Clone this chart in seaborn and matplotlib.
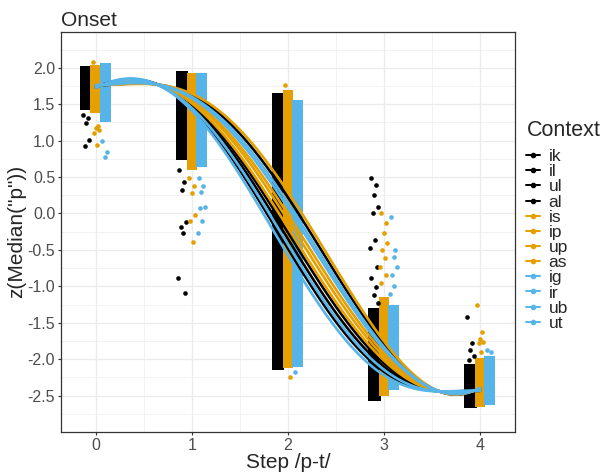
import matplotlib
matplotlib.use("Agg")
import matplotlib.pyplot as plt
from matplotlib.lines import Line2D
from matplotlib.ticker import AutoMinorLocator, FormatStrFormatter
import numpy as np
import pandas as pd
import seaborn as sns

# steps of the /p-t/ continuum
steps = [0, 1, 2, 3, 4]

# contexts, grouped by colour
contexts = ["ik", "il", "ul", "al", "is", "ip", "up", "as", "ig", "ir", "ub", "ut"]
groups = ["black", "orange", "blue"]
group_contexts = [["ik", "il", "ul", "al"], ["is", "ip", "up", "as"], ["ig", "ir", "ub", "ut"]]

# dense part of each point column (per group, per step)
black_hi = [2.02, 1.95, 1.66, -1.30, -2.06]
black_lo = [1.42, 0.73, -2.15, -2.57, -2.67]
orange_hi = [2.04, 1.93, 1.69, -1.15, -1.99]
orange_lo = [1.38, 0.60, -2.12, -2.50, -2.66]
blue_hi = [2.07, 1.93, 1.56, -1.25, -1.95]
blue_lo = [1.26, 0.64, -2.11, -2.43, -2.63]

# stray points outside the dense part
black_out = [[1.35, 1.31, 1.24, 1.01, 0.92],
             [0.60, 0.43, 0.32, -0.12, -0.18, -0.27, -0.89, -1.09],
             [],
             [0.48, 0.39, 0.25, 0.09, 0.00, -0.37, -0.48, -0.73, -0.89, -1.01, -1.12, -1.23],
             [-1.42, -1.78, -1.88, -1.95, -2.01]]
orange_out = [[2.08, 1.20, 1.17, 1.14, 1.10, 0.94],
              [0.48, 0.37, 0.28, -0.02, -0.10, -0.39],
              [1.76, -2.24],
              [0.01, -0.13, -0.27, -0.41, -0.50, -0.61, -0.73, -0.85, -0.96],
              [-1.25, -1.63, -1.72, -1.76, -1.78, -1.90]]
blue_out = [[1.00, 0.85, 0.77],
            [0.48, 0.37, 0.30, 0.09, 0.07, -0.10, -0.27],
            [-2.17],
            [-0.05, -0.50, -0.60, -0.73, -0.85, -1.00, -1.10],
            [-1.88, -1.90]]

# smooth fits read at half steps
curve_x = [0, 0.5, 1, 1.5, 2, 2.5, 3, 3.5, 4]
curve_ik = [1.76, 1.79, 1.62, 1.09, 0.23, -0.82, -1.81, -2.39, -2.40]
curve_il = [1.75, 1.78, 1.53, 0.71, -0.46, -1.27, -2.12, -2.44, -2.42]
curve_ul = [1.74, 1.77, 1.51, 0.62, -0.62, -1.37, -2.19, -2.45, -2.43]
curve_al = [1.75, 1.78, 1.54, 0.77, -0.35, -1.20, -2.07, -2.43, -2.41]
curve_is = [1.77, 1.79, 1.63, 1.14, 0.32, -0.76, -1.77, -2.38, -2.39]
curve_ip = [1.76, 1.78, 1.58, 0.93, -0.05, -1.00, -1.93, -2.41, -2.41]
curve_up = [1.75, 1.78, 1.55, 0.81, -0.27, -1.15, -2.03, -2.43, -2.41]
curve_as = [1.75, 1.78, 1.57, 0.88, -0.15, -1.07, -1.98, -2.42, -2.41]
curve_ig = [1.76, 1.79, 1.60, 1.04, 0.14, -0.88, -1.85, -2.39, -2.40]
curve_ir = [1.76, 1.79, 1.59, 0.99, 0.06, -0.93, -1.88, -2.40, -2.40]
curve_ub = [1.74, 1.77, 1.51, 0.66, -0.55, -1.33, -2.16, -2.45, -2.42]
curve_ut = [1.74, 1.77, 1.49, 0.56, -0.73, -1.44, -2.24, -2.46, -2.43]
curves = [curve_ik, curve_il, curve_ul, curve_al, curve_is, curve_ip,
          curve_up, curve_as, curve_ig, curve_ir, curve_ub, curve_ut]

colors = {"black": "#000000", "orange": "#E69F00", "blue": "#56B4E9"}
offsets = {"black": -0.10, "orange": 0.0, "blue": 0.10}
widths = {"black": 0.13, "orange": 0.11, "blue": 0.115}

sns.set_theme(style="whitegrid")
plt.rcParams["font.family"] = ["Liberation Sans", "DejaVu Sans"]
plt.rcParams["axes.unicode_minus"] = False

fig = plt.figure(figsize=(6.02, 4.73), dpi=100)
ax = fig.add_axes([0.1008, 0.0867, 0.7547, 0.8463])

hi_lists = {"black": black_hi, "orange": orange_hi, "blue": blue_hi}
lo_lists = {"black": black_lo, "orange": orange_lo, "blue": blue_lo}
out_lists = {"black": black_out, "orange": orange_out, "blue": blue_out}
jit_pattern = [-0.03, 0.02, 0.0, 0.035, -0.015, 0.01, -0.04, 0.025]

for g in groups:
    c = colors[g]
    xs = np.array(steps) + offsets[g]
    lo = np.array(lo_lists[g])
    hi = np.array(hi_lists[g])
    ax.bar(xs, hi - lo, bottom=lo, width=widths[g], color=c, linewidth=0, zorder=2)
    rows = []
    for s, vals in zip(steps, out_lists[g]):
        jit = np.resize(jit_pattern, len(vals)) if len(vals) else []
        for v, j in zip(vals, jit):
            rows.append((s + offsets[g] + j, v))
    pts = pd.DataFrame(rows, columns=["x", "y"])
    sns.scatterplot(data=pts, x="x", y="y", color=c, s=11, linewidth=0, ax=ax, zorder=3)

ctx_color = {}
for g, cl in zip(groups, group_contexts):
    for ctx in cl:
        ctx_color[ctx] = colors[g]

for ctx, vals in zip(contexts, curves):
    df = pd.DataFrame({"x": curve_x, "y": vals})
    sns.regplot(data=df, x="x", y="y", order=5, scatter=False, ci=None, truncate=True,
                line_kws={"color": ctx_color[ctx], "lw": 1.9, "zorder": 4}, ax=ax)

ax.set_xlim(-0.365, 4.365)
ax.set_ylim(-3.0, 2.495)
ax.set_xticks(steps)
ax.set_yticks([-2.5, -2.0, -1.5, -1.0, -0.5, 0.0, 0.5, 1.0, 1.5, 2.0])
ax.yaxis.set_major_formatter(FormatStrFormatter("%.1f"))
ax.xaxis.set_minor_locator(AutoMinorLocator(2))
ax.yaxis.set_minor_locator(AutoMinorLocator(2))
ax.grid(which="major", color="#EBEBEB", lw=0.9)
ax.grid(which="minor", color="#EBEBEB", lw=0.45)
ax.set_axisbelow(True)
for sp in ax.spines.values():
    sp.set_color("#333333")
    sp.set_linewidth(0.9)
ax.tick_params(which="major", length=2.5, width=0.8, color="#333333", labelsize=11.5,
               labelcolor="#4D4D4D", pad=1.5, bottom=True, left=True)
ax.tick_params(which="minor", length=0)

ax.set_xlabel("Step /p-t/", fontsize=15, labelpad=0)
ax.set_ylabel('z(Median("p"))', fontsize=15, labelpad=1)
ax.set_title("Onset", loc="left", fontsize=15, pad=4)

# legend: title as its own text, keys below it
fig.text(527 / 602, 1 - 130 / 473, "Context", fontsize=15.5, ha="left", va="center")
handles = [Line2D([0], [0], color=ctx_color[c], lw=1.4, marker="o", ms=3) for c in contexts]
leg = fig.legend(handles, contexts, loc="upper left", bbox_to_anchor=(526 / 602, 1 - 149 / 473),
                 fontsize=12.5, frameon=False, borderpad=0, borderaxespad=0,
                 handlelength=0.8, handletextpad=0.5, labelspacing=0.0)

fig.savefig("out.png", dpi=100)
